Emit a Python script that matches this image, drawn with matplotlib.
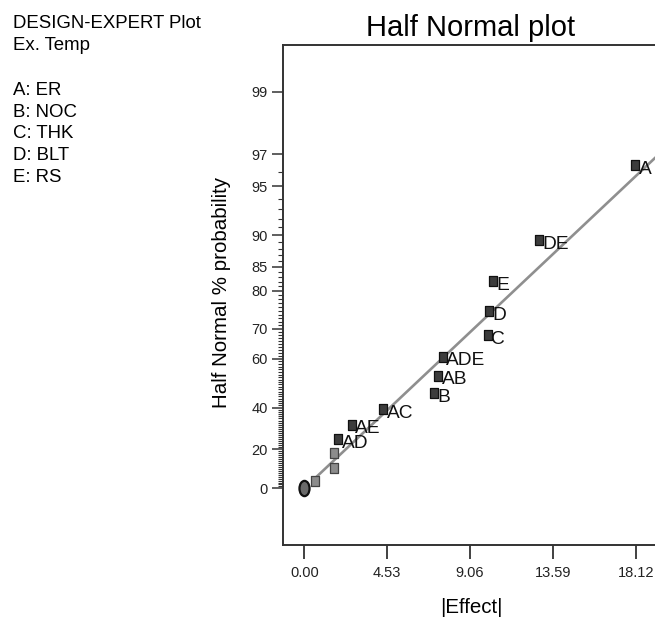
#!/usr/bin/env python3
"""Half-normal plot of effects (Design-Expert style) for Ex. Temp."""
from statistics import NormalDist

import matplotlib

matplotlib.use("Agg")
import matplotlib.pyplot as plt  # noqa: E402
import numpy as np  # noqa: E402
from matplotlib.path import Path  # noqa: E402

plt.rcParams["font.family"] = ["Liberation Sans", "DejaVu Sans"]

# ---- data -------------------------------------------------------------
HEADER = ["DESIGN-EXPERT Plot", "Ex. Temp"]
FACTORS = ["A: ER", "B: NOC", "C: THK", "D: BLT", "E: RS"]

EFFECTS = [0.60, 1.60, 1.60, 1.86, 2.60, 4.32, 7.10, 7.33, 7.58,
           10.04, 10.08, 10.33, 12.83, 18.10]
PROBS = [3.6, 10.7, 17.9, 25.0, 32.1, 39.3, 46.4, 53.6, 60.7,
         67.9, 75.0, 82.1, 89.3, 96.4]
TERMS = ["", "", "", "AD", "AE", "AC", "B", "AB", "ADE",
         "C", "D", "E", "DE", "A"]
ERROR_EFFECT = [0.0]
ERROR_PROB = [0.0]

X_TICKS = [0.00, 4.53, 9.06, 13.59, 18.12]
Y_MAJOR = [0, 20, 40, 60, 70, 80, 85, 90, 95, 97, 99]
LINE_SLOPE = 0.1119      # half-normal quantile per unit |effect|
LINE_START = 0.60

_nd = NormalDist()
_ppf = np.vectorize(_nd.inv_cdf, otypes=[float])
_cdf = np.vectorize(_nd.cdf, otypes=[float])


def to_z(p):
    q = np.clip(0.5 + np.asarray(p, dtype=float) / 200.0, 1e-9, 1 - 1e-9)
    return _ppf(q)


def to_p(z):
    return (2.0 * _cdf(np.asarray(z, dtype=float)) - 1.0) * 100.0


# ---- figure -------------------------------------------------------------
fig = plt.figure(figsize=(6.55, 6.17), dpi=100)
ax = fig.add_axes([0.4321, 0.1175, 0.574, 0.8096])
ax.set_yscale("function", functions=(to_z, to_p))
ax.set_xlim(-1.165, 19.39)
ax.set_ylim(float(to_p(-0.365)), float(to_p(2.879)))

# fitted line through the origin
lx = np.array([LINE_START, 22.0])
ax.plot(lx, to_p(LINE_SLOPE * lx), color="#8f8f8f", lw=1.9, zorder=2,
        solid_capstyle="butt")

rect = Path([(-0.4, -0.5), (0.4, -0.5), (0.4, 0.5), (-0.4, 0.5), (-0.4, -0.5)],
            [Path.MOVETO, Path.LINETO, Path.LINETO, Path.LINETO, Path.CLOSEPOLY])
circ = Path.unit_circle()
oval = Path(circ.vertices * np.array([0.66, 1.0]), circ.codes)

eff = np.array(EFFECTS)
prb = np.array(PROBS)
picked = np.array([t != "" for t in TERMS])
ax.plot(eff[~picked], prb[~picked], ls="none", marker=rect, ms=7.4,
        mfc="#8c8c8c", mec="#444444", mew=0.9, zorder=3)
ax.plot(eff[picked], prb[picked], ls="none", marker=rect, ms=7.4,
        mfc="#3c3c3c", mec="#111111", mew=0.9, zorder=3)
ax.plot(ERROR_EFFECT, ERROR_PROB, ls="none", marker=oval, ms=11,
        mfc="#6a6a6a", mec="#111111", mew=1.6, zorder=4)

for x, y, t in zip(EFFECTS, PROBS, TERMS):
    if t:
        ax.annotate(t, (x, y), textcoords="offset points", xytext=(2.4, -3.0),
                    ha="left", va="center", fontsize=13.8, color="#111111")

# ---- axes styling -------------------------------------------------------
ax.set_xticks(X_TICKS)
ax.set_xticklabels([f"{v:.2f}" for v in X_TICKS])
ax.set_yticks(Y_MAJOR)
ax.set_yticklabels([str(v) for v in Y_MAJOR])
ax.set_yticks([v for v in range(1, 97) if v not in Y_MAJOR], minor=True)
ax.xaxis.set_minor_locator(matplotlib.ticker.NullLocator())

ax.tick_params(axis="x", length=10, width=1.3, pad=5.5, labelsize=10.5,
               color="#333333", labelcolor="#222222")
ax.tick_params(axis="y", which="major", length=8, width=1.1, pad=2.9,
               labelsize=10.5, color="#333333", labelcolor="#222222")
ax.tick_params(axis="y", which="minor", length=3.6, width=0.8, color="#333333")
for s in ax.spines.values():
    s.set_linewidth(1.4)
    s.set_color("#333333")

ax.set_title("Half Normal plot", fontsize=21, pad=6.5)
ax.set_xlabel("|Effect|", fontsize=14.8, va="baseline")
ax.xaxis.set_label_coords(0.5, -0.137)
ax.set_ylabel("Half Normal % probability", fontsize=14.8, va="baseline")
ax.yaxis.set_label_coords(-0.1497, 0.504)

# ---- info block (top-left) ---------------------------------------------
H = 617.0
for i, line in enumerate(HEADER):
    fig.text(13 / 655, 1 - (28.4 + 21.7 * i) / H, line, fontsize=13.4,
             va="baseline", ha="left")
for i, line in enumerate(FACTORS):
    fig.text(13 / 655, 1 - (95.0 + 21.7 * i) / H, line, fontsize=13.4,
             va="baseline", ha="left")

fig.savefig("out.png", dpi=100, facecolor="white")
plt.close(fig)
